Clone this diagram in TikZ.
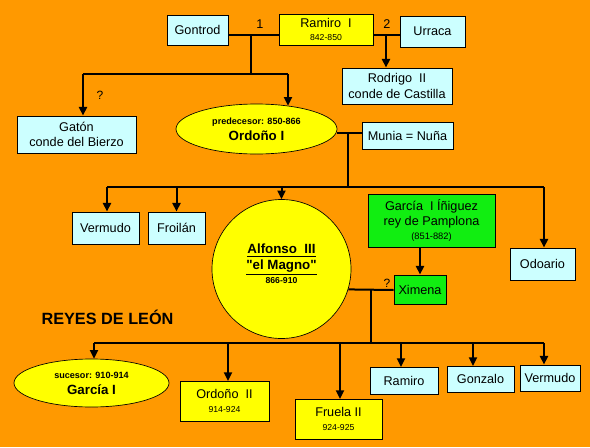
\documentclass[tikz,border=0pt]{standalone}
\usepackage{fontspec}
\setmainfont{Liberation Sans}
\usetikzlibrary{arrows.meta,shapes.geometric}

\begin{document}
\begin{tikzpicture}[x=0.75pt,y=-0.75pt,
  sz/.style 2 args={minimum width=#1*0.75pt,minimum height=#2*0.75pt},
  caja/.style={draw=black, line width=0.6pt, fill=celeste, inner sep=0pt,
    align=center, font=\fontsize{9.5}{11.5}\selectfont},
  rey/.style={caja, fill=amarillo},
  navarra/.style={caja, fill=verde},
  ovalo/.style={ellipse, draw=black, line width=0.5pt, fill=amarillo, inner sep=0pt, align=center},
  linea/.style={line width=1.5pt},
  flecha/.style={linea, -{Triangle[length=6.5pt,width=6pt]}}]

% Colores
\definecolor{fondo}{HTML}{FF9900}
\definecolor{celeste}{HTML}{CCFFFF}
\definecolor{amarillo}{HTML}{FFFF00}
\definecolor{verde}{HTML}{11EE11}

% Fondo
\fill[fondo] (0,0) rectangle (590,447);
\useasboundingbox (0,0) rectangle (590,447);

% Primera generacion
\node[caja, sz={61}{30}] (gontrod) at (197.5,30) {Gontrod};
\node[rey, sz={94}{31}] (ramiro1) at (326,29.5) {Ramiro\ \ I\\[-2pt]{\fontsize{6.5}{7}\selectfont 842-850}};
\node[caja, sz={65}{31}] (urraca) at (432.5,31.5) {Urraca};
\node[caja, sz={110}{36}] (rodrigo) at (397,86) {Rodrigo\ \ II\\conde de Castilla};
\node[caja, sz={119}{37}] (gaton) at (76.5,134.5) {Gatón\\conde del Bierzo};
\node[ovalo, sz={161}{50}] (ordono1) at (256.5,129)
  {{\fontsize{6.8}{8}\bfseries predecesor: 850-866}\\{\fontsize{10}{12}\bfseries Ordoño I}};
\node[caja, sz={91}{27}] (munia) at (407.5,135.5) {Munia = Nuña};

% Hijos de Ordono I
\node[caja, sz={67}{32}] (vermudo1) at (105.5,228) {Vermudo};
\node[caja, sz={57}{32}] (froilan) at (176.5,228) {Froilán};
\node[circle, draw=black, line width=0.5pt, fill=amarillo, sz={139}{139}, align=center] (alfonso) at (281.5,269)
  {{\fontsize{10}{10.5}\bfseries\underline{Alfonso\ \ III}}\\{\fontsize{10}{10.5}\bfseries\underline{\textquotedbl el Magno\textquotedbl}}\\[-2pt]{\fontsize{6.5}{8}\bfseries 866-910}\\[-4pt]};
\node[navarra, sz={127}{53}] (garcia) at (431.5,220.5)
  {García\ \ I Íñiguez\\rey de Pamplona\\[-1pt]{\fontsize{7}{8}\selectfont (851-882)}};
\node[caja, sz={65}{32}] (odoario) at (542.5,264) {Odoario};
\node[navarra, sz={52}{29}] (ximena) at (420,289.5) {Ximena};

% Titulo
\node[font=\fontsize{12.2}{14}\bfseries] (titulo) at (107.5,317) {REYES DE LEÓN};

% Hijos de Alfonso III
\node[ovalo, sz={155}{48}] (garcia1) at (91.5,383)
  {{\fontsize{6.8}{8}\bfseries sucesor: 910-914}\\{\fontsize{10}{12}\bfseries García I}};
\node[rey, sz={89}{40}] (ordono2) at (224.5,401) {Ordoño\ \ II\\[-1pt]{\fontsize{6.5}{7}\selectfont 914-924}};
\node[rey, sz={87}{40}] (fruela) at (338.5,419) {Fruela II\\[-1pt]{\fontsize{6.5}{7}\selectfont 924-925}};
\node[caja, sz={68}{27}] (ramiro) at (404,380.5) {Ramiro};
\node[caja, sz={67}{26}] (gonzalo) at (480.5,379) {Gonzalo};
\node[caja, sz={60}{26}] (vermudo2) at (550,378) {Vermudo};

% Matrimonios de Ramiro I
\coordinate (m1) at (251,35);
\coordinate (m2) at (386,35);
\draw[linea] (gontrod.east |- m1) -- (ramiro1.west |- m1);
\draw[linea] (ramiro1.east |- m2) -- (urraca.west |- m2);
\node[font=\fontsize{9.5}{11}\selectfont] (uno) at (260,24) {1};
\node[font=\fontsize{9.5}{11}\selectfont] (dos) at (387,24) {2};
\draw[flecha] (m2) -- (m2 |- rodrigo.north);

% Hijos de Gontrod
\coordinate (h1a) at (83,74);
\coordinate (h1b) at (288,74);
\draw[linea] (m1) -- (m1 |- h1a);
\draw[linea] (h1a) -- (h1b);
\draw[flecha] (h1a) -- (h1a |- gaton.north);
\draw[flecha] (h1b) -- ([yshift=-1.5pt]h1b |- ordono1.north);
\node[font=\fontsize{9}{11}\selectfont] (duda1) at (100,95) {?};

% Ordono I y Munia
\coordinate (m3) at (348,133);
\draw[linea] (m3 -| ordono1.east) -- (m3 -| munia.west);
\coordinate (h2a) at (107,187);
\coordinate (h2b) at (544,187);
\draw[linea] (m3) -- (m3 |- h2a);
\draw[linea] (h2a) -- (h2b);
\draw[flecha] (h2a) -- (h2a |- vermudo1.north);
\draw[flecha] (froilan.north |- h2a) -- (froilan.north);
\draw[flecha] (alfonso.north |- h2a) -- (alfonso.north);
\draw[flecha] (h2b) -- (h2b |- odoario.north);

% Alfonso III y Ximena
\draw[flecha] (ximena.north |- garcia.south) -- (ximena.north);
\coordinate (m4) at (371,290);
\draw[linea] (alfonso.-17.6) -- (m4 -| ximena.west);
\node[font=\fontsize{9}{11}\selectfont] (duda2) at (387,283) {?};
\coordinate (h3a) at (94,343);
\coordinate (h3b) at (544,343);
\draw[linea] (m4) -- (m4 |- h3a);
\draw[linea] (h3a) -- (h3b);
\draw[flecha] (h3a) -- (h3a |- garcia1.north);
\draw[flecha] (228,343) -- (228,381);
\draw[flecha] (340,343) -- (340,399);
\draw[flecha] (401,343) -- (401,367);
\draw[flecha] (473,343) -- (473,366);
\draw[flecha] (h3b) -- (h3b |- vermudo2.north);

\end{tikzpicture}
\end{document}
